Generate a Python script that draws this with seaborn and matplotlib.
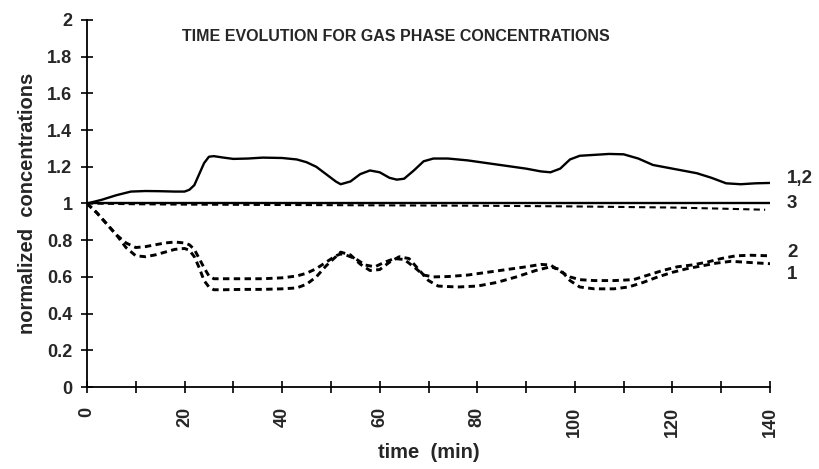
import numpy as np
import pandas as pd
import matplotlib
matplotlib.use("Agg")
import matplotlib.pyplot as plt
import seaborn as sns

# ---------------- data ----------------
t_12 = [0, 3, 6, 9, 12, 15, 18, 20, 21, 22, 23, 24, 25, 26, 28, 30, 33, 36, 40, 43,
        45, 47, 49, 51, 52, 54, 56, 58, 60, 62, 63.5, 65, 67, 69, 71, 74, 78, 82, 86,
        90, 93, 95, 97, 99, 101, 104, 107, 110, 113, 116, 119, 122, 125, 128, 131,
        134, 137, 140]
c_12 = [1.0, 1.02, 1.045, 1.065, 1.068, 1.067, 1.065, 1.065, 1.075, 1.10, 1.16, 1.22,
        1.255, 1.258, 1.25, 1.243, 1.245, 1.25, 1.248, 1.24, 1.225, 1.2, 1.16, 1.12,
        1.105, 1.12, 1.16, 1.18, 1.17, 1.14, 1.13, 1.135, 1.18, 1.23, 1.245, 1.245,
        1.235, 1.22, 1.205, 1.19, 1.175, 1.17, 1.19, 1.24, 1.26, 1.265, 1.27, 1.268,
        1.245, 1.21, 1.195, 1.18, 1.165, 1.14, 1.11, 1.105, 1.11, 1.112]

t_2 = [0, 2, 4, 6, 8, 10, 12, 14, 16, 18, 20, 21, 22, 23, 24, 25, 26, 28, 32, 36, 40,
       43, 45, 47, 49, 51, 52, 53, 55, 57, 59, 61, 63, 65, 67, 69, 71, 74, 78, 82, 86,
       90, 93, 95, 97, 99, 101, 104, 108, 112, 115, 118, 121, 124, 127, 130, 133, 136,
       140]
c_2 = [1.0, 0.95, 0.89, 0.83, 0.785, 0.76, 0.765, 0.775, 0.785, 0.79, 0.785, 0.775,
       0.75, 0.70, 0.65, 0.605, 0.59, 0.59, 0.59, 0.59, 0.595, 0.605, 0.62, 0.645, 0.68,
       0.715, 0.725, 0.72, 0.70, 0.665, 0.655, 0.68, 0.70, 0.695, 0.655, 0.61, 0.60,
       0.602, 0.61, 0.625, 0.64, 0.655, 0.668, 0.665, 0.63, 0.60, 0.585, 0.58, 0.58,
       0.585, 0.61, 0.635, 0.655, 0.665, 0.68, 0.70, 0.715, 0.718, 0.715]

t_1 = [0, 2, 4, 6, 8, 10, 12, 14, 16, 18, 20, 21, 22, 23, 24, 25, 26, 28, 32, 36, 40,
       43, 45, 47, 49, 51, 52, 54, 56, 58, 60, 62, 64, 66, 68, 70, 72, 76, 80, 84, 88,
       92, 95, 97, 99, 101, 104, 108, 111, 114, 117, 120, 123, 126, 129, 132, 135, 138,
       140]
c_1 = [1.0, 0.95, 0.89, 0.83, 0.76, 0.715, 0.71, 0.72, 0.735, 0.75, 0.755, 0.745, 0.71,
       0.65, 0.58, 0.545, 0.53, 0.53, 0.532, 0.532, 0.535, 0.54, 0.56, 0.60, 0.66, 0.71,
       0.735, 0.72, 0.67, 0.635, 0.64, 0.68, 0.71, 0.70, 0.64, 0.58, 0.55, 0.545, 0.55,
       0.57, 0.60, 0.635, 0.655, 0.64, 0.58, 0.545, 0.535, 0.535, 0.545, 0.57, 0.60,
       0.625, 0.645, 0.66, 0.675, 0.685, 0.68, 0.675, 0.672]

t_3 = [0, 140]
c_3 = [1.0, 1.0]

t_3b = [0, 10, 20, 40, 60, 80, 100, 120, 130, 139]
c_3b = [1.0, 0.996, 0.994, 0.992, 0.99, 0.988, 0.984, 0.978, 0.972, 0.966]

curve_labels = ["1,2", "3", "2", "1"]
label_y = [1.135, 1.0, 0.733, 0.614]

x_ticks = list(range(0, 141, 20))
y_ticks = [0, 0.2, 0.4, 0.6, 0.8, 1, 1.2, 1.4, 1.6, 1.8, 2]

# ---------------- plot ----------------
sns.set_style("ticks")
plt.rcParams["font.family"] = ["Liberation Sans", "DejaVu Sans"]
plt.rcParams["font.weight"] = "bold"

fig = plt.figure(figsize=(8.19, 4.69), dpi=100)
ax = fig.add_axes([0.1062, 0.1748, 0.834, 0.7826])

sns.lineplot(x=t_12, y=c_12, ax=ax, color="black", lw=1.7, estimator=None)
sns.lineplot(x=t_3, y=c_3, ax=ax, color="black", lw=1.7, estimator=None)
sns.lineplot(x=t_3b, y=c_3b, ax=ax, color="black", lw=1.5, estimator=None,
             linestyle=(0, (3, 2)))
sns.lineplot(x=t_2, y=c_2, ax=ax, color="black", lw=2.1, estimator=None,
             linestyle=(0, (2.2, 1.5)))
sns.lineplot(x=t_1, y=c_1, ax=ax, color="black", lw=2.1, estimator=None,
             linestyle=(0, (2.2, 1.5)))

ax.set_xlim(0, 140)
ax.set_ylim(0, 2)
ax.set_xticks(x_ticks)
ax.set_xticks(range(10, 140, 20), minor=True)
ax.set_xticklabels([str(v) for v in x_ticks], rotation=90, fontsize=13, fontweight="bold")
ax.set_yticks(y_ticks)
ax.set_yticklabels([f"{v:g}" for v in y_ticks], fontsize=13, fontweight="bold")
ax.tick_params(axis="both", which="both", direction="inout", length=9, width=1.2,
               color="black")
ax.tick_params(axis="x", pad=10)
ax.tick_params(axis="y", pad=6)

for side in ["top", "right"]:
    ax.spines[side].set_visible(False)
for side in ["left", "bottom"]:
    ax.spines[side].set_linewidth(1.3)
    ax.spines[side].set_color("black")

ax.set_xlabel("time  (min)", fontsize=14.5, fontweight="bold", labelpad=4)
ax.set_ylabel("normalized  concentrations", fontsize=14.5, fontweight="bold", labelpad=7)

ax.text(0.452, 0.954, "TIME EVOLUTION FOR GAS PHASE CONCENTRATIONS",
        transform=ax.transAxes, ha="center", va="center", fontsize=11.5,
        fontweight="bold")

for lab, yv in zip(curve_labels, label_y):
    ax.text(143.5, yv, lab, ha="left", va="center", fontsize=13.5,
            fontweight="bold", clip_on=False)

fig.savefig("out.png", dpi=100)
